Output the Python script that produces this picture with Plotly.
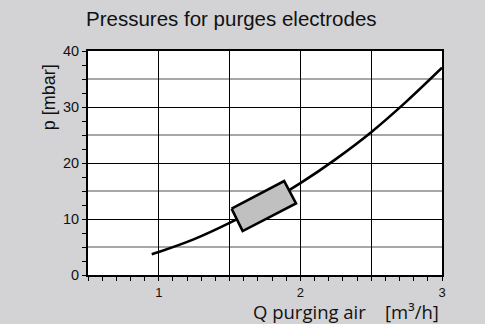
import plotly.graph_objects as go

# Characteristic curve: purge air flow vs. pressure
flow_q = [0.95, 1.0, 1.25, 1.5, 1.75, 2.0, 2.25, 2.5, 2.75, 3.0]
pressure_p = [3.7, 4.1, 6.4, 9.3, 12.6, 16.4, 20.7, 25.5, 31.0, 37.0]

# Operating window (rotated rectangle corners)
window_q = [1.514, 1.885, 1.969, 1.592, 1.514]
window_p = [11.84, 16.79, 12.79, 7.84, 11.84]

# Axis ticks
x_tickvals = [1, 1.5, 2, 2.5, 3]
x_ticktext = ["1", "", "2", "", "3"]
y_tickvals = [0, 10, 20, 30, 40]
y_ticktext = ["0", "10", "20", "30", "40"]
y_gray_grid = [5, 15, 25, 35]

BG = "#d3d3d5"

fig = go.Figure()

fig.add_trace(go.Scatter(
    x=flow_q, y=pressure_p, mode="lines",
    line=dict(color="black", width=2.6, shape="spline"),
    hoverinfo="skip", showlegend=False,
))

fig.add_trace(go.Scatter(
    x=window_q, y=window_p, mode="lines", fill="toself",
    fillcolor="#c0c0c0", line=dict(color="black", width=2.6),
    hoverinfo="skip", showlegend=False,
))

for v in y_gray_grid:
    fig.add_shape(type="line", xref="paper", x0=0, x1=1, yref="y", y0=v, y1=v,
                  line=dict(color="#8a8a8a", width=1.6), layer="below")

fig.update_layout(
    width=485, height=324,
    margin=dict(l=88, r=43, t=51, b=49),
    paper_bgcolor=BG, plot_bgcolor="white",
    font=dict(family="Liberation Sans, Arial, sans-serif", color="#111", size=14),
    title=dict(
        text="Pressures for purges electrodes",
        font=dict(family="Liberation Sans, Arial, sans-serif", size=20.5, color="#111"),
        xref="container", yref="container",
        x=86 / 485, xanchor="left", y=1 - 18.5 / 324, yanchor="middle",
    ),
    xaxis=dict(
        range=[0.5, 3], tickvals=x_tickvals, ticktext=x_ticktext,
        showgrid=True, gridcolor="black", gridwidth=1, zeroline=False,
        showline=True, linecolor="black", linewidth=2, mirror=True,
        ticks="outside", ticklen=4, tickcolor="black", tickwidth=1,
        tickfont=dict(size=13), ticklabelstandoff=0,
        minor=dict(dtick=0.1, tick0=0.5, ticks="outside", ticklen=4,
                   tickcolor="black", tickwidth=1, showgrid=False),
        fixedrange=True,
    ),
    yaxis=dict(
        range=[0, 40], tickvals=y_tickvals, ticktext=y_ticktext,
        showgrid=True, gridcolor="black", gridwidth=1, zeroline=False,
        showline=True, linecolor="black", linewidth=2, mirror=True,
        ticks="outside", ticklen=4, tickcolor="black", tickwidth=1,
        tickfont=dict(size=14.5), ticklabelstandoff=0,
        minor=dict(dtick=2.5, tick0=0, ticks="outside", ticklen=4,
                   tickcolor="black", tickwidth=1, showgrid=False),
        fixedrange=True,
    ),
    annotations=[
        dict(text="p [mbar]", xref="paper", yref="paper",
             x=(49 - 88) / 354, y=(275.3 - 97) / 224.6,
             xanchor="center", yanchor="middle", textangle=-90, showarrow=False,
             font=dict(family="Liberation Sans, Arial, sans-serif", size=18, color="#111")),
        dict(text="Q purging air\u00a0\u00a0\u00a0\u00a0[m³/h]", xref="paper", yref="paper",
             x=(441 - 88) / 354, y=(275.3 - 312) / 224.6,
             xanchor="right", yanchor="middle", showarrow=False,
             font=dict(family="Open Sans, sans-serif", size=18.5, color="#111")),
    ],
)

fig.write_html("out.html")
